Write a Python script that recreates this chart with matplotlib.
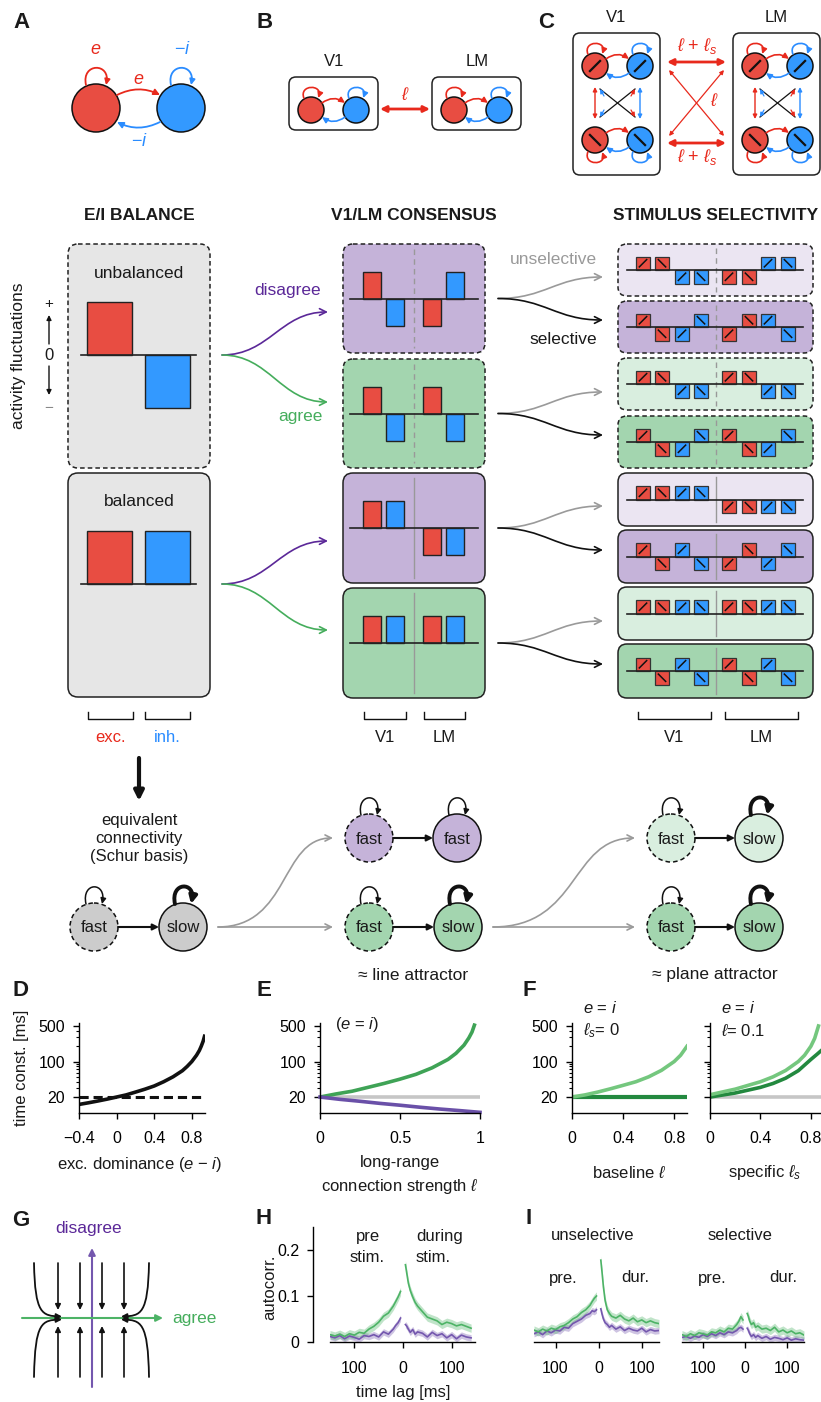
import numpy as np
import matplotlib as mpl
import matplotlib.pyplot as plt
from matplotlib.patches import Circle, FancyArrowPatch, FancyBboxPatch
from matplotlib.path import Path

mpl.rcParams.update(
    {
        "font.family": ["Liberation Sans", "DejaVu Sans"],
        "mathtext.fontset": "custom",
        "mathtext.rm": "Liberation Sans",
        "mathtext.it": "Liberation Sans:italic",
        "mathtext.bf": "Liberation Sans:bold",
        "font.size": 12,
        "axes.linewidth": 1.0,
        "xtick.labelsize": 11.5,
        "ytick.labelsize": 11.5,
    }
)

W, H = 821, 1402

COL = {
    "ink": "#1A1A1A",
    "red": "#E84D42",
    "red_l": "#E8291C",
    "blue": "#3399FF",
    "blue_l": "#2A8CFF",
    "gray_box": "#E6E6E6",
    "purple_box": "#C5B3D9",
    "green_box": "#A3D5AF",
    "purple_lt": "#EBE5F2",
    "green_lt": "#D9EEDF",
    "node_gray": "#CCCCCC",
    "purple_txt": "#5B2898",
    "green_txt": "#45AD5C",
    "arrow_gray": "#9A9A9A",
    "trace_green": "#4DB366",
    "trace_purple": "#7457AE",
    "curve_green": "#3FA356",
    "curve_purple": "#6A50A8",
    "f_light": "#74C77E",
    "f_dark": "#23893F",
    "ref_gray": "#C6C6C6",
}

# ---- schematic values (+1 = positive fluctuation, -1 = negative) ----
EI_UNBALANCED = [1, -1]
EI_BALANCED = [1, 1]
EI_COLORS = ["red", "blue"]

CONS_DISAGREE_UNBAL = [1, -1, -1, 1]
CONS_AGREE_UNBAL = [1, -1, 1, -1]
CONS_DISAGREE_BAL = [1, 1, -1, -1]
CONS_AGREE_BAL = [1, 1, 1, 1]
CONS_COLORS = ["red", "blue", "red", "blue"]

SEL_COLORS = ["red", "red", "blue", "blue", "red", "red", "blue", "blue"]
SEL_ORIENT = ["/", "\\", "/", "\\", "/", "\\", "/", "\\"]
SEL_UNSEL_DIS_UNBAL = [1, 1, -1, -1, -1, -1, 1, 1]
SEL_SEL_DIS_UNBAL = [1, -1, -1, 1, -1, 1, 1, -1]
SEL_UNSEL_AGR_UNBAL = [1, 1, -1, -1, 1, 1, -1, -1]
SEL_SEL_AGR_UNBAL = [1, -1, -1, 1, 1, -1, -1, 1]
SEL_UNSEL_DIS_BAL = [1, 1, 1, 1, -1, -1, -1, -1]
SEL_SEL_DIS_BAL = [1, -1, 1, -1, -1, 1, -1, 1]
SEL_UNSEL_AGR_BAL = [1, 1, 1, 1, 1, 1, 1, 1]
SEL_SEL_AGR_BAL = [1, -1, 1, -1, 1, -1, 1, -1]

# ---- D: time constant vs excitatory dominance ----
D_X = [-0.4, -0.3, -0.2, -0.1, 0.0, 0.1, 0.2, 0.3, 0.4, 0.5, 0.6, 0.7, 0.75, 0.8, 0.85, 0.88, 0.9, 0.92, 0.94]
D_TAU = [14.3, 15.4, 16.7, 18.2, 20, 22, 25, 28.5, 33, 40, 50, 66, 80, 100, 133, 165, 200, 250, 340]
D_REF = 20

# ---- E: time constant vs long-range strength ----
E_L = [0, 0.1, 0.2, 0.3, 0.4, 0.5, 0.6, 0.7, 0.8, 0.85, 0.9, 0.93, 0.95, 0.965]
E_AGREE = [20, 23, 26, 31, 37, 45, 56, 75, 110, 145, 210, 290, 380, 520]
E_L_DIS = [0, 0.125, 0.25, 0.375, 0.5, 0.625, 0.75, 0.875, 1.0]
E_DISAGREE = [20, 18, 16.5, 15, 13.8, 12.6, 11.6, 10.8, 10]

# ---- F: baseline l and specific l_s ----
F1_X = [0, 0.1, 0.2, 0.3, 0.4, 0.5, 0.6, 0.7, 0.8, 0.85, 0.9]
F1_UNSEL = [20, 22, 25, 29, 34, 40, 50, 67, 100, 133, 200]
F1_SEL = [20, 20, 20, 20, 20, 20, 20, 20, 20, 20, 20]
F2_X_UNSEL = [0, 0.2, 0.4, 0.5, 0.6, 0.7, 0.75, 0.8, 0.83, 0.86]
F2_UNSEL = [22.2, 28.6, 40, 50, 66.7, 100, 133, 200, 286, 500]
F2_X_SEL = [0, 0.2, 0.4, 0.5, 0.6, 0.7, 0.8, 0.85, 0.9]
F2_SEL = [20, 24, 31, 37, 47, 66, 110, 140, 180]

# ---- H / I: autocorrelation ----
PRE_LAG = [-150, -140, -130, -120, -110, -100, -90, -80, -70, -60, -50, -40, -30, -20, -15, -10, -5]
DUR_LAG = [5, 8, 11, 15, 20, 25, 30, 40, 50, 60, 70, 80, 90, 100, 110, 120, 130, 140]
H_PRE_AGREE = [0.016, 0.013, 0.017, 0.012, 0.018, 0.015, 0.021, 0.019, 0.028, 0.034, 0.043, 0.056, 0.063, 0.078, 0.088, 0.098, 0.11]
H_PRE_DIS = [0.012, 0.009, 0.014, 0.007, 0.013, 0.010, 0.006, 0.014, 0.012, 0.016, 0.011, 0.022, 0.017, 0.028, 0.036, 0.042, 0.052]
H_DUR_AGREE = [0.168, 0.148, 0.128, 0.112, 0.098, 0.086, 0.078, 0.066, 0.054, 0.050, 0.046, 0.038, 0.043, 0.040, 0.035, 0.038, 0.034, 0.030]
H_DUR_DIS = [0.038, 0.034, 0.028, 0.021, 0.027, 0.017, 0.022, 0.019, 0.011, 0.021, 0.014, 0.018, 0.009, 0.016, 0.007, 0.015, 0.011, 0.009]
IU_PRE_AGREE = [0.026, 0.022, 0.028, 0.024, 0.030, 0.027, 0.033, 0.036, 0.042, 0.050, 0.055, 0.064, 0.070, 0.080, 0.088, 0.095, 0.100]
IU_PRE_DIS = [0.018, 0.022, 0.016, 0.024, 0.020, 0.026, 0.024, 0.032, 0.030, 0.040, 0.045, 0.050, 0.058, 0.062, 0.068, 0.066, 0.070]
IU_DUR_AGREE = [0.178, 0.150, 0.120, 0.090, 0.070, 0.062, 0.056, 0.052, 0.058, 0.050, 0.046, 0.052, 0.044, 0.048, 0.042, 0.046, 0.042, 0.040]
IU_DUR_DIS = [0.072, 0.060, 0.050, 0.042, 0.038, 0.032, 0.036, 0.028, 0.033, 0.025, 0.030, 0.026, 0.024, 0.030, 0.022, 0.027, 0.024, 0.025]
IS_PRE_AGREE = [0.016, 0.012, 0.018, 0.014, 0.020, 0.018, 0.015, 0.022, 0.020, 0.026, 0.022, 0.030, 0.028, 0.038, 0.045, 0.055, 0.048]
IS_PRE_DIS = [0.010, 0.012, 0.008, 0.013, 0.010, 0.016, 0.012, 0.018, 0.014, 0.020, 0.016, 0.022, 0.020, 0.025, 0.030, 0.032, 0.028]
IS_DUR_AGREE = [0.062, 0.055, 0.045, 0.038, 0.042, 0.032, 0.035, 0.028, 0.030, 0.025, 0.032, 0.022, 0.026, 0.020, 0.024, 0.018, 0.020, 0.015]
IS_DUR_DIS = [0.030, 0.025, 0.018, 0.012, 0.016, 0.010, 0.014, 0.008, 0.012, 0.006, 0.010, 0.008, 0.005, 0.009, 0.004, 0.007, 0.005, 0.004]
SEM_AGREE = 0.009
SEM_DIS = 0.007


fig = plt.figure(figsize=(W / 100, H / 100), dpi=100, facecolor="white")
ax = fig.add_axes([0, 0, 1, 1])
ax.set_xlim(0, W)
ax.set_ylim(H, 0)
ax.set_axis_off()


def txt(x, y, s, size=12, color=None, weight="normal", ha="center", va="center", **kw):
    ax.text(x, y, s, fontsize=size, color=color or COL["ink"], weight=weight, ha=ha, va=va, zorder=6, **kw)


def rbox(x0, y0, x1, y1, fc, dashed=False, r=9):
    ax.add_patch(FancyBboxPatch((x0, y0), x1 - x0, y1 - y0, boxstyle=f"round,pad=0,rounding_size={r}",
                                fc=fc, ec="#222222", lw=1.1, ls=(0, (3, 2)) if dashed else "-", zorder=1))


def node(x, y, r, fc, dashed=False, lw=1.1):
    ax.add_patch(Circle((x, y), r, fc=fc, ec="#111111", lw=lw, ls=(0, (3, 2)) if dashed else "-", zorder=3))


def arrow(p0, p1, color, lw=1.2, style="-|>", ms=9, rad=0.0, z=4):
    ax.add_patch(FancyArrowPatch(p0, p1, arrowstyle=style, mutation_scale=ms, lw=lw, color=color,
                                 connectionstyle=f"arc3,rad={rad}", shrinkA=0, shrinkB=0, zorder=z))


def path_arrow(verts, color, lw=1.2, style="-|>", ms=9, z=4):
    codes = [Path.MOVETO, Path.CURVE4, Path.CURVE4, Path.CURVE4]
    ax.add_patch(FancyArrowPatch(path=Path(verts, codes), arrowstyle=style, mutation_scale=ms, lw=lw,
                                 color=color, zorder=z))


def s_arrow(p0, p1, color, lw=1.2, ms=12):
    dx = p1[0] - p0[0]
    path_arrow([p0, (p0[0] + dx * 0.45, p0[1]), (p1[0] - dx * 0.45, p1[1]), p1], color, lw=lw, style="->", ms=ms)


def loop(x, y, color, w=8, h=18, lw=1.2, ms=8, up=True):
    s = -1 if up else 1
    path_arrow([(x - w, y), (x - w - 5, y + s * h * 1.33), (x + w + 5, y + s * h * 1.33), (x + w, y)],
               color, lw=lw, ms=ms)


def slash(x, y, d, orient, lw=1.3):
    if orient == "/":
        ax.plot([x - d, x + d], [y + d, y - d], color="#111111", lw=lw, zorder=5, solid_capstyle="butt")
    else:
        ax.plot([x - d, x + d], [y - d, y + d], color="#111111", lw=lw, zorder=5, solid_capstyle="butt")


def ei_pair(xe, xi, y, r, below=False, marks=None):
    node(xe, y, r, COL["red"])
    node(xi, y, r, COL["blue"])
    if marks:
        slash(xe, y, r * 0.45, marks, lw=1.6)
        slash(xi, y, r * 0.45, marks, lw=1.6)
    top = y - r * 0.55
    bot = y + r * 0.55
    arrow((xe + r * 0.85, top), (xi - r * 0.85, top), COL["red_l"], lw=1.2, ms=8, rad=-0.35)
    arrow((xi - r * 0.85, bot), (xe + r * 0.85, bot), COL["blue_l"], lw=1.2, ms=8, rad=-0.35)
    ly = y + r if below else y - r
    loop(xe, ly + (1 if not below else -1), COL["red_l"], w=r * 0.55, h=r * 0.8, up=not below)
    loop(xi, ly + (1 if not below else -1), COL["blue_l"], w=r * 0.55, h=r * 0.8, up=not below)


# ------------------------------------------------------------------ A
txt(21, 23, "A", size=16, weight="bold")
node(96, 108, 24, COL["red"])
node(181, 108, 24, COL["blue"])
loop(96, 85, COL["red_l"], w=10, h=17, lw=1.3)
loop(181, 85, COL["blue_l"], w=10, h=17, lw=1.3)
arrow((117, 95), (160, 95), COL["red_l"], lw=1.3, rad=-0.25)
arrow((160, 122), (117, 122), COL["blue_l"], lw=1.3, rad=-0.25)
txt(96, 50, "$e$", size=13, color=COL["red_l"])
txt(139, 79, "$e$", size=13, color=COL["red_l"])
txt(182, 50, "\u2212$i$", size=13, color=COL["blue_l"])
txt(139, 142, "\u2212$i$", size=13, color=COL["blue_l"])

# ------------------------------------------------------------------ B
txt(265, 23, "B", size=16, weight="bold")
for x0, lab in [(289, "V1"), (432, "LM")]:
    rbox(x0, 77, x0 + 89, 130, "white", r=7)
    txt(x0 + 45, 61, lab, size=12)
    ei_pair(x0 + 22, x0 + 67, 110, 13)
arrow((380, 109), (430, 109), COL["red_l"], lw=2.0, style="<|-|>", ms=9)
txt(405, 95, r"$\ell$", size=13, color=COL["red_l"])

# ------------------------------------------------------------------ C
txt(546, 23, "C", size=16, weight="bold")
for x0, lab in [(573, "V1"), (733, "LM")]:
    rbox(x0, 33, x0 + 87, 175, "white", r=7)
    txt(x0 + 43, 17, lab, size=12)
    xe, xi = x0 + 22, x0 + 67
    ei_pair(xe, xi, 66, 13, marks="/")
    ei_pair(xe, xi, 140, 13, below=True, marks="\\")
    arrow((xe, 87), (xe, 119), COL["red_l"], lw=1.0, style="<|-|>", ms=6)
    arrow((xi, 87), (xi, 119), COL["blue_l"], lw=1.0, style="<|-|>", ms=6)
    ax.plot([xe + 5, xi - 5], [89, 117], color="#111111", lw=0.9, zorder=4)
    ax.plot([xi - 5, xe + 5], [89, 117], color="#111111", lw=0.9, zorder=4)
    arrow((xe + 9, 96), (xe + 5, 89), COL["blue_l"], lw=0.9, ms=6)
    arrow((xi - 9, 110), (xi - 5, 117), COL["red_l"], lw=0.9, ms=6)
    arrow((xi - 9, 96), (xi - 5, 89), COL["red_l"], lw=0.9, ms=6)
    arrow((xe + 9, 110), (xe + 5, 117), COL["blue_l"], lw=0.9, ms=6)
arrow((667, 62), (726, 62), COL["red_l"], lw=2.0, style="<|-|>", ms=9)
arrow((667, 143), (726, 143), COL["red_l"], lw=2.0, style="<|-|>", ms=9)
arrow((669, 70), (724, 136), COL["red_l"], lw=0.9, style="<|-|>", ms=6)
arrow((724, 70), (669, 136), COL["red_l"], lw=0.9, style="<|-|>", ms=6)
txt(697, 46, r"$\ell$ + $\ell_s$", size=13, color=COL["red_l"])
txt(697, 157, r"$\ell$ + $\ell_s$", size=13, color=COL["red_l"])
txt(714, 102, r"$\ell$", size=13, color=COL["red_l"])

# ------------------------------------------------------------------ section titles
txt(139, 215, "E/I BALANCE", size=12.5, weight="bold")
txt(414, 215, "V1/LM CONSENSUS", size=12.5, weight="bold")
txt(716, 215, "STIMULUS SELECTIVITY", size=12.5, weight="bold")

# ------------------------------------------------------------------ E/I balance column
EI_X = [109.5, 167.5]
for (y0, y1, vals, label, dashed) in [(244, 468, EI_UNBALANCED, "unbalanced", True),
                                      (473, 697, EI_BALANCED, "balanced", False)]:
    rbox(68, y0, 210, y1, COL["gray_box"], dashed=dashed, r=10)
    txt(139, y0 + 29, label, size=12.5)
    base = 355 if dashed else 584
    ax.bar(EI_X, -np.array(vals) * 53, bottom=base, width=45, color=[COL[c] for c in EI_COLORS],
           edgecolor="#222222", lw=1.0, zorder=3)
    ax.plot([81, 196], [base, base], color="#222222", lw=1.2, zorder=4)

txt(19, 356, "activity fluctuations", size=12.5, rotation=90)
txt(49, 304, "+", size=11)
txt(49, 355, "0", size=12)
txt(49, 408, "\u2212", size=11, color="#888888")
arrow((49, 344), (49, 315), "#111111", lw=1.0, ms=7)
arrow((49, 366), (49, 395), "#111111", lw=1.0, ms=7)

for x0, x1, lab, c in [(88, 133, "exc.", COL["red_l"]), (145, 190, "inh.", COL["blue_l"])]:
    ax.plot([x0, x0, x1, x1], [712, 719, 719, 712], color="#111111", lw=1.0)
    txt((x0 + x1) / 2, 738, lab, size=12, color=c)

s_arrow((222, 355), (328, 312), COL["purple_txt"])
s_arrow((222, 355), (328, 402), COL["green_txt"])
s_arrow((222, 584), (328, 541), COL["purple_txt"])
s_arrow((222, 584), (328, 630), COL["green_txt"])
txt(288, 290, "disagree", size=12.5, color=COL["purple_txt"])
txt(300, 417, "agree", size=12.5, color=COL["green_txt"])

# ------------------------------------------------------------------ consensus column
CONS_X = [372, 395, 432, 455]
cons_rows = [(244, 353, CONS_DISAGREE_UNBAL, COL["purple_box"], True),
             (359, 468, CONS_AGREE_UNBAL, COL["green_box"], True),
             (473, 583, CONS_DISAGREE_BAL, COL["purple_box"], False),
             (588, 698, CONS_AGREE_BAL, COL["green_box"], False)]
for y0, y1, vals, fc, dashed in cons_rows:
    rbox(343, y0, 485, y1, fc, dashed=dashed, r=10)
    base = (y0 + y1) / 2
    ax.plot([414, 414], [y0 + 5, y1 - 5], color="#999999", lw=1.0, ls=(0, (4, 3)) if dashed else "-", zorder=2)
    ax.bar(CONS_X, -np.array(vals) * 27, bottom=base, width=18, color=[COL[c] for c in CONS_COLORS],
           edgecolor="#222222", lw=1.0, zorder=3)
    ax.plot([350, 478], [base, base], color="#222222", lw=1.2, zorder=4)

for x0, x1, lab in [(364, 406, "V1"), (424, 465, "LM")]:
    ax.plot([x0, x0, x1, x1], [712, 719, 719, 712], color="#111111", lw=1.0)
    txt((x0 + x1) / 2, 738, lab, size=12)

# ------------------------------------------------------------------ selectivity column
SEL_X = [643, 662, 682, 701, 729, 749, 768, 788]
sel_rows = [(244, 296, SEL_UNSEL_DIS_UNBAL, COL["purple_lt"], True),
            (301, 353, SEL_SEL_DIS_UNBAL, COL["purple_box"], True),
            (358, 410, SEL_UNSEL_AGR_UNBAL, COL["green_lt"], True),
            (416, 468, SEL_SEL_AGR_UNBAL, COL["green_box"], True),
            (473, 526, SEL_UNSEL_DIS_BAL, COL["purple_lt"], False),
            (530, 583, SEL_SEL_DIS_BAL, COL["purple_box"], False),
            (587, 640, SEL_UNSEL_AGR_BAL, COL["green_lt"], False),
            (644, 698, SEL_SEL_AGR_BAL, COL["green_box"], False)]
SQ = 13.5
for y0, y1, vals, fc, dashed in sel_rows:
    rbox(618, y0, 813, y1, fc, dashed=dashed, r=9)
    base = (y0 + y1) / 2
    ax.plot([716, 716], [y0 + 4, y1 - 4], color="#999999", lw=1.0, ls=(0, (4, 3)) if dashed else "-", zorder=2)
    ax.bar(SEL_X, -np.array(vals) * SQ, bottom=base, width=SQ, color=[COL[c] for c in SEL_COLORS],
           edgecolor="#333333", lw=0.9, zorder=3)
    for x, v, o in zip(SEL_X, vals, SEL_ORIENT):
        slash(x, base - v * SQ / 2, 4.2, o, lw=1.1)
    ax.plot([627, 803], [base, base], color="#222222", lw=1.2, zorder=4)

for (y0, y1, _, _, _), tips in zip(cons_rows, [(277, 320), (392, 435), (506, 550), (621, 664)]):
    base = (y0 + y1) / 2
    s_arrow((498, base), (603, tips[0]), COL["arrow_gray"])
    s_arrow((498, base), (603, tips[1]), "#111111")
txt(553, 259, "unselective", size=12.5, color=COL["arrow_gray"])
txt(563, 339, "selective", size=12.5)

for x0, x1, lab in [(638, 711, "V1"), (725, 798, "LM")]:
    ax.plot([x0, x0, x1, x1], [712, 719, 719, 712], color="#111111", lw=1.0)
    txt((x0 + x1) / 2, 738, lab, size=12)

# ------------------------------------------------------------------ Schur basis sketch
arrow((139, 758), (139, 801), "#111111", lw=3.0, ms=14)
txt(139, 839, "equivalent\nconnectivity\n(Schur basis)", size=12, linespacing=1.25)


def schur(xf, xs, y, fc, slow=True):
    r = 24
    node(xf, y, r, fc, dashed=True)
    node(xs, y, r, fc)
    txt(xf, y + 1, "fast", size=12)
    txt(xs, y + 1, "slow" if slow else "fast", size=12)
    loop(xf, y - r + 1, "#111111", w=8, h=17, lw=1.1, ms=8)
    if slow:
        loop(xs, y - r + 1, "#111111", w=8, h=17, lw=2.8, ms=11)
    else:
        loop(xs, y - r + 1, "#111111", w=8, h=17, lw=1.1, ms=8)
    arrow((xf + r, y), (xs - r, y), "#111111", lw=1.5, ms=9)


schur(94, 183, 927, COL["node_gray"])
schur(369, 457, 838, COL["purple_box"], slow=False)
schur(369, 458, 927, COL["green_box"])
schur(671, 759, 838, COL["green_lt"])
schur(671, 759, 927, COL["green_box"])
arrow((218, 927), (333, 927), COL["arrow_gray"], lw=1.2, style="->", ms=11)
path_arrow([(218, 927), (290, 927), (280, 838), (333, 838)], COL["arrow_gray"], lw=1.2, style="->", ms=11)
arrow((493, 927), (635, 927), COL["arrow_gray"], lw=1.2, style="->", ms=11)
path_arrow([(493, 927), (580, 927), (570, 838), (635, 838)], COL["arrow_gray"], lw=1.2, style="->", ms=11)
txt(413, 975, "\u2248 line attractor", size=12.5)
txt(715, 975, "\u2248 plane attractor", size=12.5)

# ------------------------------------------------------------------ G phase portrait
txt(21, 1220, "G", size=16, weight="bold")
arrow((92, 1387), (92, 1248), COL["trace_purple"], lw=1.5, ms=10)
arrow((22, 1318), (163, 1318), COL["trace_green"], lw=1.5, ms=10)
txt(89, 1228, "disagree", size=12.5, color=COL["purple_txt"])
txt(194, 1318, "agree", size=12.5, color=COL["green_txt"])
for x in [58, 80, 102, 124]:
    arrow((x, 1263), (x, 1310), "#111111", lw=1.2, ms=8)
    arrow((x, 1377), (x, 1326), "#111111", lw=1.2, ms=8)
path_arrow([(34, 1263), (35, 1314), (42, 1316), (62, 1316.5)], "#111111", lw=1.3, ms=8)
path_arrow([(34, 1377), (35, 1322), (42, 1320), (62, 1319.5)], "#111111", lw=1.3, ms=8)
path_arrow([(149, 1263), (148, 1314), (141, 1316), (121, 1316.5)], "#111111", lw=1.3, ms=8)
path_arrow([(149, 1377), (148, 1322), (141, 1320), (121, 1319.5)], "#111111", lw=1.3, ms=8)

# ------------------------------------------------------------------ plot panels


def px_axes(x0, y0, x1, y1):
    a = fig.add_axes([x0 / W, 1 - y1 / H, (x1 - x0) / W, (y1 - y0) / H])
    a.patch.set_alpha(0)
    for s in ["top", "right"]:
        a.spines[s].set_visible(False)
    a.tick_params(length=4, width=1.0, pad=6)
    a.tick_params(which="minor", length=2.2, width=0.8)
    return a


def tau_axis(a, xlim, xticks, xlabels):
    a.set_yscale("log")
    a.set_ylim(9.7, 573)
    a.set_yticks([20, 100, 500])
    a.set_yticklabels(["20", "100", "500"])
    a.set_xlim(*xlim)
    a.set_xticks(xticks)
    a.set_xticklabels(xlabels)
    a.tick_params(axis="x", pad=9)


txt(20, 990, "D", size=16, weight="bold")
txt(264, 990, "E", size=16, weight="bold")
txt(529, 990, "F", size=16, weight="bold")

axD = px_axes(79, 1023, 205, 1113)
tau_axis(axD, (-0.4, 0.94), [-0.4, 0, 0.4, 0.8], ["\u22120.4", "0", "0.4", "0.8"])
axD.axhline(D_REF, color="#111111", lw=2.2, ls=(0, (3, 1.6)))
axD.plot(D_X, D_TAU, color="#111111", lw=2.6, solid_capstyle="butt")
txt(22, 1068, "time const. [ms]", size=12, rotation=90)
txt(140, 1165, "exc. dominance ($e$ \u2212 $i$)", size=12)

axE = px_axes(320, 1023, 480, 1113)
tau_axis(axE, (0, 1), [0, 0.5, 1], ["0", "0.5", "1"])
axE.axhline(20, color=COL["ref_gray"], lw=2.6)
axE.plot(E_L, E_AGREE, color=COL["curve_green"], lw=2.6)
axE.plot(E_L_DIS, E_DISAGREE, color=COL["curve_purple"], lw=2.6, clip_on=False)
txt(335, 1024, "($e$ = $i$)", size=12, ha="left")
txt(400, 1163, "long-range", size=12)
txt(400, 1186, r"connection strength $\ell$", size=12)

axF1 = px_axes(572, 1023, 687, 1113)
tau_axis(axF1, (0, 0.9), [0, 0.4, 0.8], ["0", "0.4", "0.8"])
axF1.plot(F1_X, F1_SEL, color=COL["f_dark"], lw=3.0)
axF1.plot(F1_X, F1_UNSEL, color=COL["f_light"], lw=2.6)
txt(583, 1008, "$e$ = $i$", size=12, ha="left")
txt(583, 1031, r"$\ell_s$= 0", size=12, ha="left")
txt(629, 1173, r"baseline $\ell$", size=12)

axF2 = px_axes(710, 1023, 821, 1113)
tau_axis(axF2, (0, 0.88), [0, 0.4, 0.8], ["0", "0.4", "0.8"])
axF2.set_yticklabels([])
axF2.axhline(20, color=COL["ref_gray"], lw=2.6)
axF2.plot(F2_X_SEL, F2_SEL, color=COL["f_dark"], lw=2.6)
axF2.plot(F2_X_UNSEL, F2_UNSEL, color=COL["f_light"], lw=2.6)
txt(721, 1008, "$e$ = $i$", size=12, ha="left")
txt(721, 1031, r"$\ell$= 0.1", size=12, ha="left")
txt(765, 1173, r"specific $\ell_s$", size=12)

# autocorrelation panels
txt(264, 1218, "H", size=16, weight="bold")
txt(529, 1218, "I", size=16, weight="bold")


def trace(a, lags, vals, color, sem):
    v = np.array(vals)
    a.fill_between(lags, v - sem, v + sem, color=color, alpha=0.35, lw=0)
    a.plot(lags, v, color=color, lw=1.2)


def ac_axis(a, xlim, show_y):
    a.set_xlim(*xlim)
    a.set_ylim(0, 0.25)
    a.set_xticks([-100, 0, 100])
    a.set_xticklabels(["100", "0", "100"])
    a.tick_params(axis="x", pad=10)
    if show_y:
        a.spines["left"].set_position(("outward", 12))
        a.set_yticks([0, 0.1, 0.2])
        a.set_yticklabels(["0", "0.1", "0.2"])
    else:
        a.spines["left"].set_visible(False)
        a.set_yticks([])


panels = [((330, 475), (-150, 148), True, H_PRE_AGREE, H_PRE_DIS, H_DUR_AGREE, H_DUR_DIS),
          ((534, 659), (-150, 140), False, IU_PRE_AGREE, IU_PRE_DIS, IU_DUR_AGREE, IU_DUR_DIS),
          ((682, 804), (-150, 140), False, IS_PRE_AGREE, IS_PRE_DIS, IS_DUR_AGREE, IS_DUR_DIS)]
for (x0, x1), xlim, show_y, pa, pd, da, dd in panels:
    a = px_axes(x0, 1227, x1, 1342)
    ac_axis(a, xlim, show_y)
    trace(a, PRE_LAG, pd, COL["trace_purple"], SEM_DIS)
    trace(a, DUR_LAG, dd, COL["trace_purple"], SEM_DIS)
    trace(a, PRE_LAG, pa, COL["trace_green"], SEM_AGREE)
    trace(a, DUR_LAG, da, COL["trace_green"], SEM_AGREE)

txt(270, 1287, "autocorr.", size=12, rotation=90)
txt(403, 1393, "time lag [ms]", size=12)
txt(368, 1237, "pre", size=12)
txt(367, 1258, "stim.", size=12)
txt(440, 1237, "during", size=12)
txt(433, 1258, "stim.", size=12)
txt(593, 1235, "unselective", size=12)
txt(740, 1235, "selective", size=12)
txt(563, 1278, "pre.", size=12)
txt(635, 1278, "dur.", size=12)
txt(712, 1278, "pre.", size=12)
txt(783, 1278, "dur.", size=12)

fig.savefig("out.png", dpi=100, facecolor="white")
